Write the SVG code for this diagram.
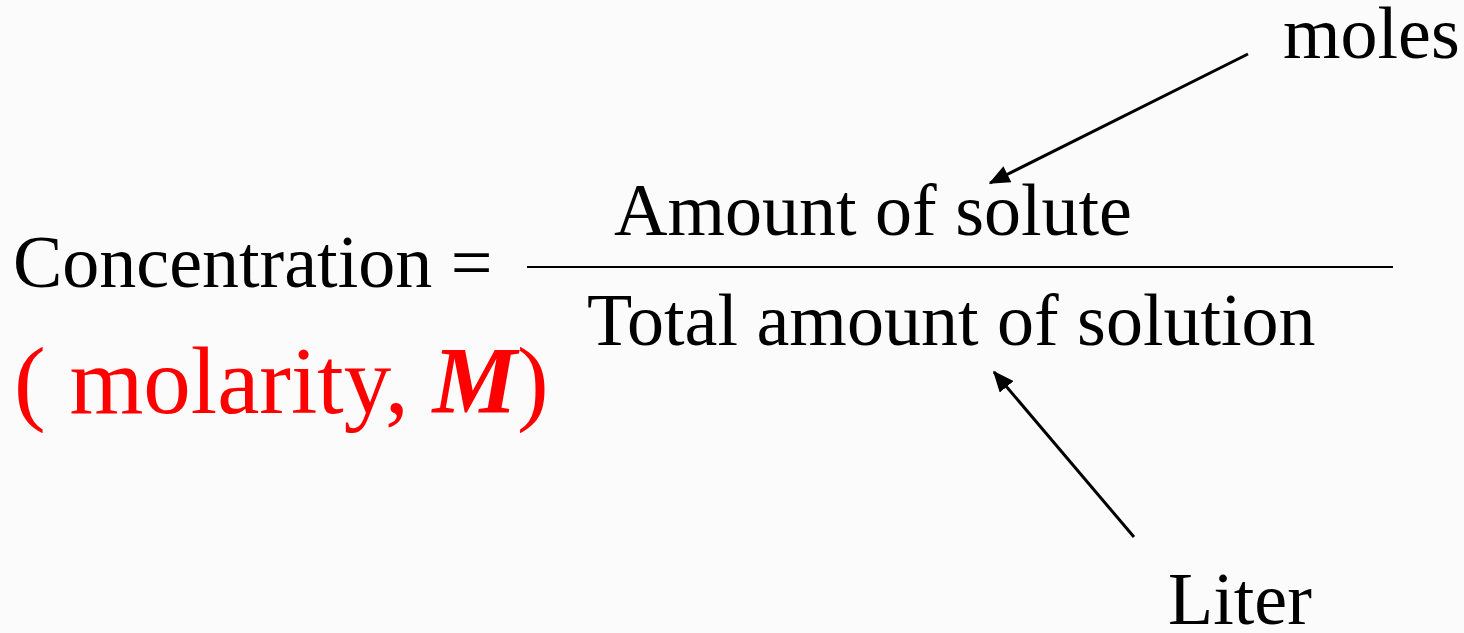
<svg xmlns="http://www.w3.org/2000/svg" width="1464" height="633" viewBox="0 0 1464 633">
<style>
.t{font-family:"Liberation Serif","Times New Roman",serif;font-size:74px;fill:#000}
.r{font-family:"Liberation Serif","Times New Roman",serif;font-size:95px;fill:#ff0000}
.c{stroke:#000;stroke-width:3;fill:none}
</style>
<defs>
<marker id="ah" markerWidth="7" markerHeight="6" refX="6.5" refY="3" orient="auto" markerUnits="strokeWidth">
<path d="M0,0 L7,3 L0,6 Z" fill="#000"/>
</marker>
</defs>
<rect width="1464" height="633" fill="#fbfbfb"/>
<g id="lhs"><text class="t" x="13" y="287">Concentration =</text></g>
<g id="molarity"><text class="r" x="14" y="413">( molarity, <tspan font-weight="bold" font-style="italic">M</tspan>)</text></g>
<g id="numerator"><text class="t" x="614" y="235">Amount of solute</text></g>
<g id="fraction-bar"><line x1="527" y1="267" x2="1393" y2="267" stroke="#000" stroke-width="2"/></g>
<g id="denominator"><text class="t" x="587" y="345">Total amount of solution</text></g>
<g id="moles"><text class="t" x="1283" y="58">moles</text></g>
<g id="liter"><text class="t" x="1168" y="624">Liter</text></g>
<g id="connectors">
<line class="c" x1="1248" y1="54" x2="990" y2="183" marker-end="url(#ah)"/>
<line class="c" x1="1134" y1="537" x2="994" y2="372" marker-end="url(#ah)"/>
</g>
</svg>
